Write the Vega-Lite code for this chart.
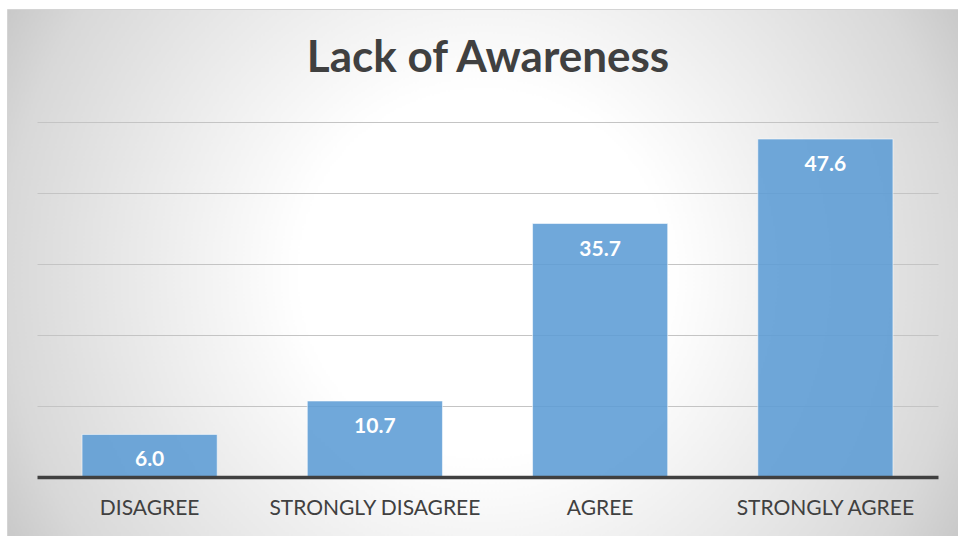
{
  "$schema": "https://vega.github.io/schema/vega-lite/v6.json",
  "width": 952,
  "height": 528,
  "autosize": {"type": "none"},
  "padding": {"left": 7, "top": 9, "right": 0, "bottom": 0},
  "background": "#ffffff",
  "view": {
    "fill": {
      "gradient": "radial",
      "x1": 0.5, "y1": 0.5, "r1": 0,
      "x2": 0.5, "y2": 0.5, "r2": 0.6,
      "stops": [
        {"offset": 0, "color": "#ffffff"},
        {"offset": 0.32, "color": "#ffffff"},
        {"offset": 0.48, "color": "#f3f3f3"},
        {"offset": 0.84, "color": "#d8d8d8"},
        {"offset": 1, "color": "#c2c2c2"}
      ]
    },
    "stroke": "#d4d4d4",
    "strokeWidth": 1
  },
  "title": {
    "text": "Lack of Awareness",
    "font": "Lato",
    "fontSize": 44,
    "fontWeight": "bold",
    "color": "#404040",
    "anchor": "middle",
    "frame": "group",
    "baseline": "alphabetic",
    "offset": -107,
    "dx": 5
  },
  "data": {
    "values": [
      {"response": "DISAGREE", "percent": 6.0},
      {"response": "STRONGLY DISAGREE", "percent": 10.7},
      {"response": "AGREE", "percent": 35.7},
      {"response": "STRONGLY AGREE", "percent": 47.6}
    ]
  },
  "encoding": {
    "x": {
      "field": "response",
      "type": "nominal",
      "sort": null,
      "scale": {"range": [30, 931], "paddingInner": 0.4, "paddingOuter": 0.2},
      "axis": {
        "title": null,
        "orient": "bottom",
        "offset": -60,
        "zindex": 1,
        "ticks": false,
        "domain": true,
        "domainColor": "#404040",
        "domainWidth": 3.5,
        "domainCap": "butt",
        "labelAngle": 0,
        "labelFont": "Lato",
        "labelFontSize": 21,
        "labelLimit": 400,
        "labelColor": "#404040",
        "labelPadding": 20,
        "grid": false
      }
    },
    "y": {
      "field": "percent",
      "type": "quantitative",
      "scale": {"domain": [0, 50], "range": [468, 113], "nice": false, "zero": true},
      "axis": {
        "title": null,
        "values": [10, 20, 30, 40, 50],
        "labels": false,
        "ticks": false,
        "domain": false,
        "grid": true,
        "gridColor": "#c4c4c4",
        "gridWidth": 1
      }
    }
  },
  "layer": [
    {
      "mark": {
        "type": "bar",
        "fill": "#5b9bd5",
        "fillOpacity": 0.87,
        "stroke": "#ffffff",
        "strokeOpacity": 0.55,
        "strokeWidth": 1
      }
    },
    {
      "mark": {
        "type": "text",
        "font": "Lato",
        "fontSize": 21,
        "fontWeight": "bold",
        "color": "#ffffff",
        "baseline": "alphabetic",
        "align": "center",
        "dy": 32
      },
      "encoding": {
        "text": {"field": "percent", "type": "quantitative", "format": ".1f"}
      }
    }
  ]
}
